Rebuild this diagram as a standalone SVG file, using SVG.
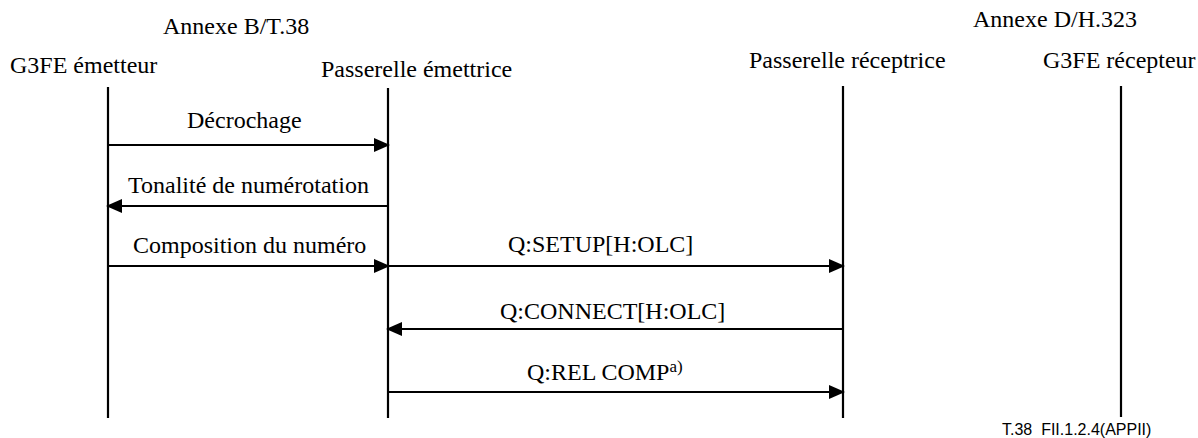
<svg xmlns="http://www.w3.org/2000/svg" width="1198" height="438" viewBox="0 0 1198 438">
<style>
.t{font-family:"Liberation Serif","Times New Roman",serif;font-size:24px;fill:#000}
.s{font-family:"Liberation Sans",Arial,sans-serif;font-size:16px;fill:#000;white-space:pre}
.life{stroke:#000;stroke-width:2.2;fill:none}
.msg{stroke:#000;stroke-width:2.2;fill:none;marker-end:url(#ah)}
</style>
<defs>
<marker id="ah" markerUnits="userSpaceOnUse" markerWidth="16" markerHeight="15" viewBox="0 0 16 14" refX="13" refY="7" orient="auto">
<path d="M0,0 L16,7 L0,14 z" fill="#000"/>
</marker>
</defs>
<text class="t" x="163" y="34">Annexe B/T.38</text>
<text class="t" x="973" y="27">Annexe D/H.323</text>
<g id="g3fe-emetteur">
<text class="t" x="10" y="73">G3FE émetteur</text>
<line class="life" x1="108" y1="87" x2="108" y2="418"/>
</g>
<g id="passerelle-emettrice">
<text class="t" x="321" y="77">Passerelle émettrice</text>
<line class="life" x1="388" y1="88" x2="388" y2="418"/>
</g>
<g id="passerelle-receptrice">
<text class="t" x="749" y="68">Passerelle réceptrice</text>
<line class="life" x1="843" y1="86" x2="843" y2="418"/>
</g>
<g id="g3fe-recepteur">
<text class="t" x="1043" y="68">G3FE récepteur</text>
<line class="life" x1="1121" y1="86" x2="1121" y2="417"/>
</g>
<g id="connectors">
<line class="msg" x1="108" y1="145" x2="387" y2="145"/>
<text class="t" x="187" y="128">Décrochage</text>
<line class="msg" x1="388" y1="206" x2="109" y2="206"/>
<text class="t" x="128" y="193">Tonalité de numérotation</text>
<line class="msg" x1="108" y1="266" x2="387" y2="266"/>
<text class="t" x="133" y="253">Composition du numéro</text>
<line class="msg" x1="388" y1="266" x2="842" y2="266"/>
<text class="t" x="508" y="252">Q:SETUP[H:OLC]</text>
<line class="msg" x1="843" y1="329" x2="389" y2="329"/>
<text class="t" x="500" y="319">Q:CONNECT[H:OLC]</text>
<line class="msg" x1="388" y1="392" x2="842" y2="392"/>
<text class="t" x="527" y="380">Q:REL COMP<tspan font-size="17" dy="-8">a)</tspan></text>
</g>
<text class="s" x="1002" y="435">T.38  FII.1.2.4(APPII)</text>
</svg>
